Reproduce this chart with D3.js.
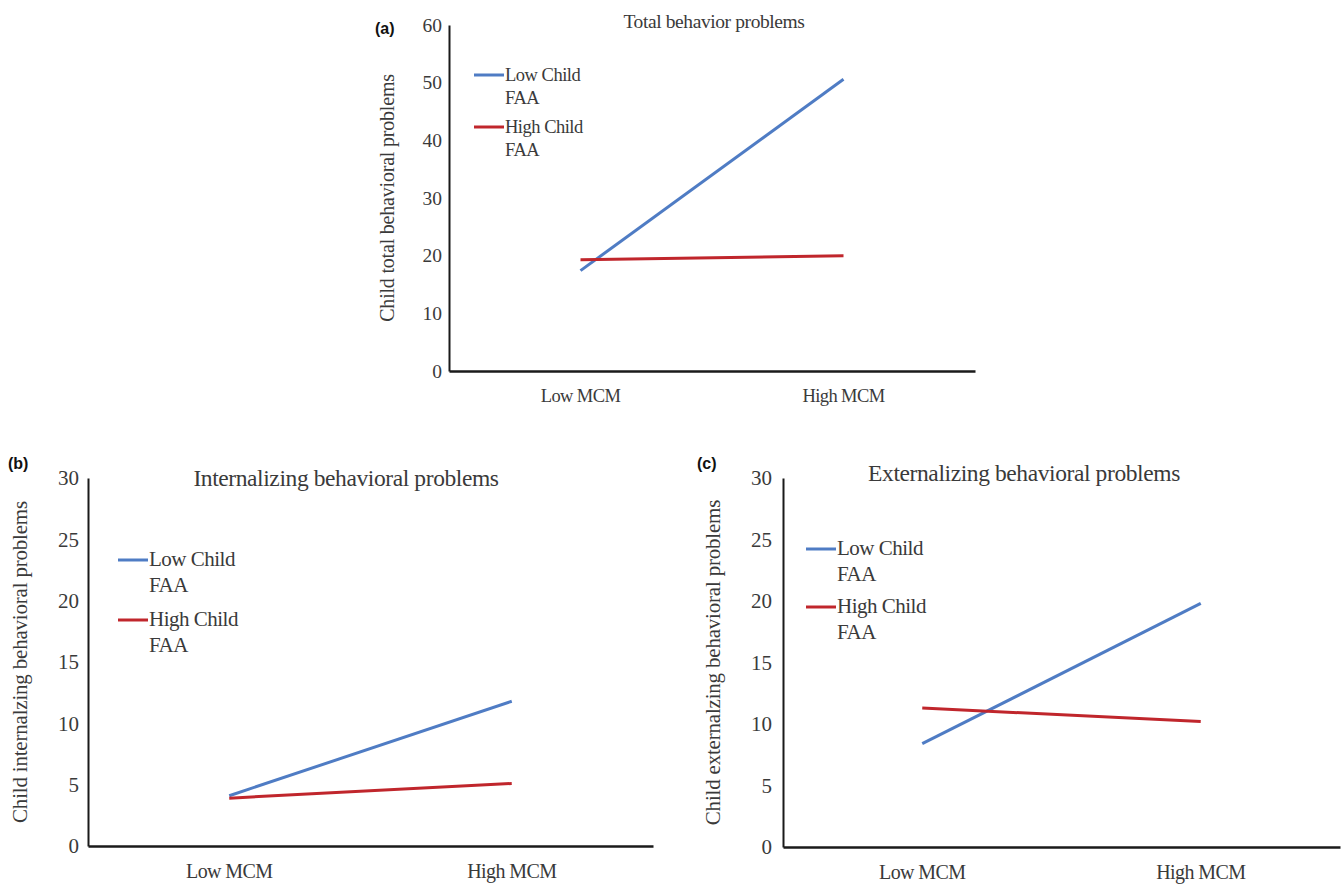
<!DOCTYPE html>
<html>
<head>
<meta charset="utf-8">
<script src="https://cdn.jsdelivr.net/npm/d3@7/dist/d3.min.js"></script>
<style>
  html, body { margin: 0; padding: 0; background: #ffffff; }
  svg { display: block; }
</style>
</head>
<body>
<svg id="chart" width="1344" height="884"></svg>
<script>
// ---- data ----
const categories = ["Low MCM", "High MCM"];
const seriesNames = [["Low Child", "FAA"], ["High Child", "FAA"]];
const seriesColors = ["#4f7cc4", "#c0262c"];

const totalLowFAA = [17.4, 50.6];
const totalHighFAA = [19.3, 20.0];
const internalLowFAA = [4.1, 11.8];
const internalHighFAA = [3.9, 5.1];
const externalLowFAA = [8.4, 19.8];
const externalHighFAA = [11.3, 10.2];

const totalTicks = [0, 10, 20, 30, 40, 50, 60];
const subTicks = [0, 5, 10, 15, 20, 25, 30];

const panelLetters = ["(a)", "(b)", "(c)"];
const panelTitles = ["Total behavior problems", "Internalizing behavioral problems", "Externalizing behavioral problems"];
const yLabels = ["Child total behavioral problems", "Child internalzing behavioral problems", "Child externalzing behavioral problems"];

// ---- layout ----
const panels = [
  { letter: panelLetters[0], title: panelTitles[0], ylab: yLabels[0], series: [totalLowFAA, totalHighFAA], ticks: totalTicks,
    left: 449, right: 975, top: 25, bottom: 371,
    tickSize: 19.5, tickPad: 7, xlabSize: 18.5, titleSize: 19.5, ylabSize: 20,
    titleX: 714, titleY: 28, letterX: 375, letterY: 34, ylabX: 389,
    legX: 474, legY: [75, 127], legGap: 23, legFont: 18.5 },
  { letter: panelLetters[1], title: panelTitles[1], ylab: yLabels[1], series: [internalLowFAA, internalHighFAA], ticks: subTicks,
    left: 88, right: 653, top: 478, bottom: 846,
    tickSize: 21, tickPad: 9, xlabSize: 20, titleSize: 23.5, ylabSize: 21,
    titleX: 346, titleY: 486, letterX: 8, letterY: 469, ylabX: 22,
    legX: 118, legY: [560, 620], legGap: 26, legFont: 21 },
  { letter: panelLetters[2], title: panelTitles[2], ylab: yLabels[2], series: [externalLowFAA, externalHighFAA], ticks: subTicks,
    left: 783, right: 1340, top: 478, bottom: 847,
    tickSize: 21, tickPad: 11, xlabSize: 20, titleSize: 23.5, ylabSize: 21,
    titleX: 1024, titleY: 481, letterX: 697, letterY: 469, ylabX: 715,
    legX: 806, legY: [549, 607], legGap: 26, legFont: 21 }
];

const svg = d3.select("#chart");
const serif = "'Liberation Serif', 'Times New Roman', serif";
const sans = "'Liberation Sans', Arial, sans-serif";

panels.forEach(p => {
  const g = svg.append("g");
  const x = d3.scaleBand().domain(categories).range([p.left, p.right]).paddingInner(0).paddingOuter(0);
  const y = d3.scaleLinear().domain([d3.min(p.ticks), d3.max(p.ticks)]).range([p.bottom, p.top]);

  // y axis
  const yAxis = d3.axisLeft(y).tickValues(p.ticks).tickSize(0).tickPadding(p.tickPad).tickFormat(d3.format("d"));
  const ya = g.append("g").attr("transform", `translate(${p.left},0)`).call(yAxis);
  ya.select(".domain").attr("stroke", "#1a1a1a").attr("stroke-width", 2);
  ya.selectAll("text").attr("font-family", serif).attr("font-size", p.tickSize).attr("fill", "#3a3a3a");

  // x axis
  const xAxis = d3.axisBottom(x).tickSize(0).tickPadding(18);
  const xa = g.append("g").attr("transform", `translate(0,${p.bottom})`).call(xAxis);
  xa.select(".domain").attr("stroke", "#1a1a1a").attr("stroke-width", 2.5);
  xa.selectAll("text").attr("font-family", serif).attr("font-size", p.xlabSize).attr("fill", "#3a3a3a")
    .attr("letter-spacing", -0.6);

  // lines
  const line = d3.line().x((d, i) => x(categories[i]) + x.bandwidth() / 2).y(d => y(d));
  p.series.forEach((s, k) => {
    g.append("path").datum(s).attr("d", line).attr("fill", "none")
      .attr("stroke", seriesColors[k]).attr("stroke-width", 3).attr("stroke-linecap", "butt");
  });

  // title
  g.append("text").attr("x", p.titleX).attr("y", p.titleY).attr("text-anchor", "middle")
    .attr("font-family", serif).attr("font-size", p.titleSize).attr("fill", "#3a3a3a")
    .attr("letter-spacing", -0.4).text(p.title);

  // panel letter
  g.append("text").attr("x", p.letterX).attr("y", p.letterY)
    .attr("font-family", sans).attr("font-weight", "bold").attr("font-size", 16).attr("fill", "#111")
    .text(p.letter);

  // y label
  const cy = (p.top + p.bottom) / 2;
  g.append("text").attr("transform", `translate(${p.ylabX},${cy}) rotate(-90)`).attr("text-anchor", "middle")
    .attr("font-family", serif).attr("font-size", p.ylabSize).attr("fill", "#3a3a3a")
    .attr("dominant-baseline", "middle").attr("letter-spacing", -0.2).text(p.ylab);

  // legend
  seriesNames.forEach((nm, k) => {
    const ly = p.legY[k];
    g.append("line").attr("x1", p.legX).attr("x2", p.legX + 30).attr("y1", ly).attr("y2", ly)
      .attr("stroke", seriesColors[k]).attr("stroke-width", 3);
    const t = g.append("text").attr("font-family", serif).attr("font-size", p.legFont).attr("fill", "#3a3a3a")
      .attr("letter-spacing", -0.5);
    nm.forEach((part, j) => {
      t.append("tspan").attr("x", p.legX + 31).attr("y", ly + 6 + j * p.legGap).text(part);
    });
  });
});
</script>
</body>
</html>
